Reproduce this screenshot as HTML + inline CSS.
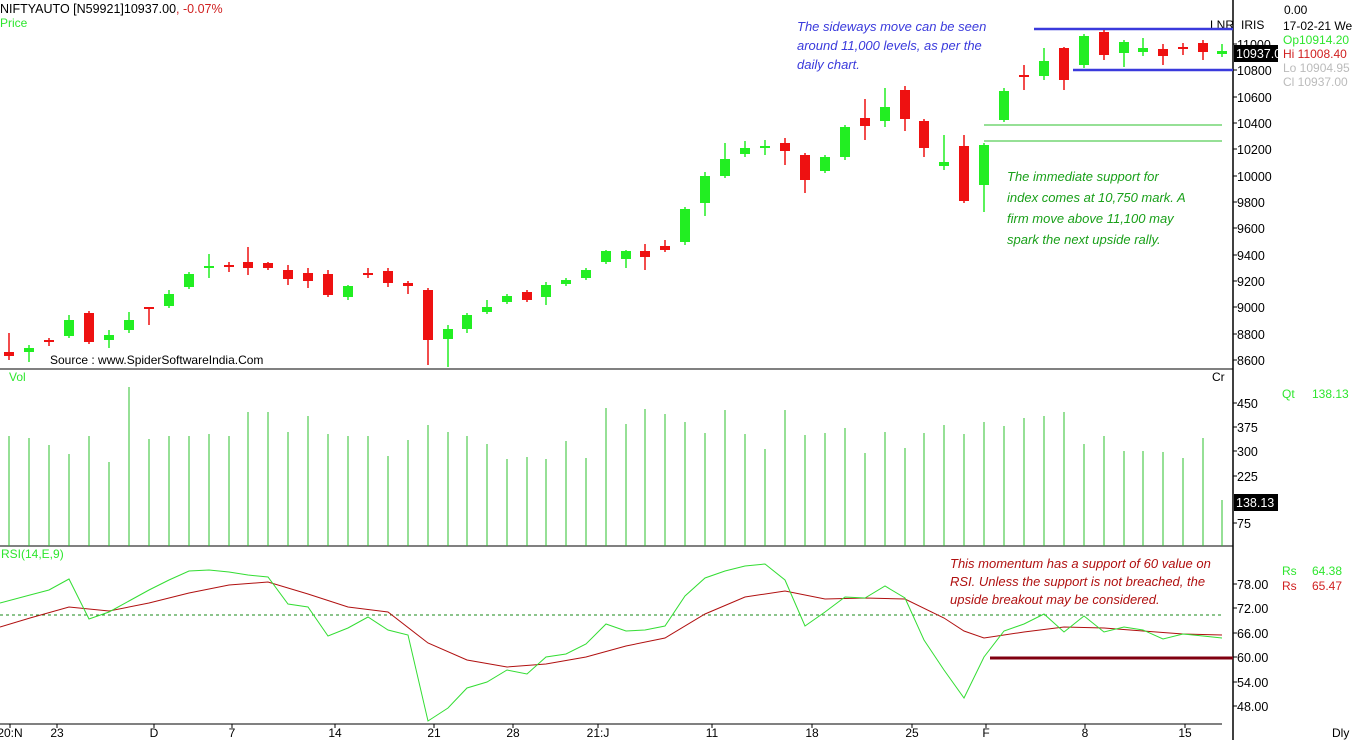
<!DOCTYPE html>
<html><head><meta charset="utf-8"><style>
body{margin:0;background:#fff;width:1352px;height:740px;overflow:hidden}
svg{display:block;font-family:"Liberation Sans",sans-serif}
.it{font-style:italic;font-size:13px}
</style></head><body>
<svg id="s" width="1352" height="740" xmlns="http://www.w3.org/2000/svg">
<rect width="1352" height="740" fill="#fff"/>
<text x="0" y="13" font-size="12.5" fill="#000">NIFTYAUTO [N59921]10937.00<tspan fill="#d02020">,  -0.07%</tspan></text>
<text x="0" y="27" font-size="12" fill="#2ee62e">Price</text>
<line x1="1233" y1="0" x2="1233" y2="740" stroke="#000" stroke-width="1.5"/>
<line x1="0" y1="369" x2="1233" y2="369" stroke="#000"/>
<line x1="0" y1="546" x2="1233" y2="546" stroke="#000"/>
<line x1="0" y1="724" x2="1222" y2="724" stroke="#000"/>
<text x="1210" y="29" font-size="12">LNR</text><text x="1241" y="29" font-size="12">IRIS</text>
<text x="1284" y="14" font-size="12">0.00</text>
<text x="1283" y="30" font-size="12">17-02-21 We</text>
<text x="1283" y="44" font-size="12" fill="#2ee62e">Op10914.20</text>
<text x="1283" y="58" font-size="12" fill="#d02020">Hi  11008.40</text>
<text x="1283" y="72" font-size="12" fill="#bbb">Lo  10904.95</text>
<text x="1283" y="86" font-size="12" fill="#bbb">Cl   10937.00</text>
<text x="9" y="381" font-size="12" fill="#2ee62e">Vol</text>
<text x="1212" y="381" font-size="12">Cr</text>
<text x="1282" y="398" font-size="12" fill="#2ee62e">Qt</text><text x="1312" y="398" font-size="12" fill="#2ee62e">138.13</text>
<text x="1" y="558" font-size="12" fill="#2ee62e">RSI(14,E,9)</text>
<text x="1282" y="575" font-size="12" fill="#2ee62e">Rs</text><text x="1312" y="575" font-size="12" fill="#2ee62e">64.38</text>
<text x="1282" y="590" font-size="12" fill="#d02020">Rs</text><text x="1312" y="590" font-size="12" fill="#d02020">65.47</text>
<text x="50" y="364" font-size="12">Source : www.SpiderSoftwareIndia.Com</text>
<text class="it" fill="#3a3adc"><tspan x="797" y="31">The sideways move can be seen</tspan><tspan x="797" y="50">around 11,000 levels, as per the</tspan><tspan x="797" y="69">daily chart.</tspan></text>
<text class="it" fill="#1aa01a"><tspan x="1007" y="181">The immediate support for</tspan><tspan x="1007" y="202">index comes at 10,750 mark. A</tspan><tspan x="1007" y="223">firm move above 11,100 may</tspan><tspan x="1007" y="244">spark the next upside rally.</tspan></text>
<text class="it" fill="#b01010"><tspan x="950" y="568">This momentum has a support of 60 value on</tspan><tspan x="950" y="586">RSI. Unless the support is not breached, the</tspan><tspan x="950" y="604">upside breakout may be considered.</tspan></text>
<line x1="1034" y1="29" x2="1233" y2="29" stroke="#3a3adc" stroke-width="2.5"/>
<line x1="1073" y1="70" x2="1233" y2="70" stroke="#3a3adc" stroke-width="2.5"/>
<line x1="984" y1="125" x2="1222" y2="125" stroke="#2ec02e"/>
<line x1="984" y1="141" x2="1222" y2="141" stroke="#2ec02e"/>
<line x1="0" y1="615" x2="1222" y2="615" stroke="#1a8a1a" stroke-dasharray="3,3"/>
<g id="g"></g>
<line x1="990" y1="658" x2="1233" y2="658" stroke="#800010" stroke-width="3"/>
<rect x="1234" y="45" width="44" height="17" fill="#000"/><text x="1236" y="58" font-size="12.5" fill="#fff">10937.0</text>
<rect x="1234" y="494" width="44" height="17" fill="#000"/><text x="1236" y="507" font-size="12.5" fill="#fff">138.13</text>
</svg>
<script>
var g=document.getElementById('g'),h='';
var C=[[9,'r',352,356,333,360],[29,'g',348,352,345,362],[49,'r',340,342,338,346],[69,'g',320,336,315,338],[89,'r',313,342,311,344],[109,'g',335,340,330,348],[129,'g',320,330,312,333],[149,'r',307,309,307,325],[169,'g',294,306,290,308],[189,'g',274,287,272,289],[209,'g',266,268,254,278],[229,'r',265,267,262,272],[248,'r',262,268,247,275],[268,'r',263,268,262,270],[288,'r',270,279,265,285],[308,'r',273,281,268,288],[328,'r',274,295,270,297],[348,'g',286,297,285,300],[368,'r',273,275,268,278],[388,'r',271,283,268,287],[408,'r',283,286,281,294],[428,'r',290,340,288,365],[448,'g',329,339,325,367],[467,'g',315,329,313,333],[487,'g',307,312,300,314],[507,'g',296,302,294,304],[527,'r',292,300,290,302],[546,'g',285,297,282,305],[566,'g',280,284,278,286],[586,'g',270,278,268,280],[606,'g',251,262,250,264],[626,'g',251,259,250,268],[645,'r',251,257,244,270],[665,'r',246,250,240,252],[685,'g',209,242,207,245],[705,'g',176,203,172,216],[725,'g',159,176,143,178],[745,'g',148,154,141,157],[765,'g',146,148,140,155],[785,'r',143,151,138,165],[805,'r',155,180,153,193],[825,'g',157,171,155,173],[845,'g',127,157,125,160],[865,'r',118,126,99,140],[885,'g',107,121,88,127],[905,'r',90,119,86,131],[924,'r',121,148,119,157],[944,'g',162,166,135,170],[964,'r',146,201,135,203],[984,'g',145,185,143,212],[1004,'g',91,120,88,122],[1024,'r',75,77,65,90],[1044,'g',61,76,48,80],[1064,'r',48,80,47,90],[1084,'g',36,65,34,68],[1104,'r',32,55,30,60],[1124,'g',42,53,40,67],[1143,'g',48,52,38,56],[1163,'r',49,56,44,65],[1183,'r',47,49,43,55],[1203,'r',43,52,40,60],[1222,'g',51,54,44,57]];
var V=[436,438,445,454,436,462,387,439,436,436,434,436,412,412,432,416,434,436,436,456,440,425,432,436,444,459,457,459,441,458,408,424,409,414,422,433,410,434,449,410,435,433,428,453,432,448,433,425,434,422,426,418,416,412,444,436,451,451,452,458,438,500];
C.forEach(function(c,i){var col=c[1]=='g'?'#22ee22':'#ee1111';
h+='<line x1="'+c[0]+'" y1="'+c[4]+'" x2="'+c[0]+'" y2="'+c[5]+'" stroke="'+col+'" stroke-width="1.5"/>';
h+='<rect x="'+(c[0]-5)+'" y="'+c[2]+'" width="10" height="'+Math.max(2,c[3]-c[2])+'" fill="'+col+'"/>';
h+='<line x1="'+c[0]+'" y1="'+V[i]+'" x2="'+c[0]+'" y2="546" stroke="#2ec02e"/>';});
[[11000,44],[10800,70],[10600,97],[10400,123],[10200,149],[10000,176],[9800,202],[9600,228],[9400,255],[9200,281],[9000,307],[8800,334],[8600,360]].forEach(function(t){h+='<line x1="1233" y1="'+t[1]+'" x2="1237" y2="'+t[1]+'" stroke="#000"/><text x="1237" y="'+(t[1]+5)+'" font-size="12.5">'+t[0]+'</text>';});
[[450,403],[375,427],[300,451],[225,476],[75,523]].forEach(function(t){h+='<line x1="1233" y1="'+t[1]+'" x2="1237" y2="'+t[1]+'" stroke="#000"/><text x="1237" y="'+(t[1]+5)+'" font-size="12.5">'+t[0]+'</text>';});
[['78.00',584],['72.00',608],['66.00',633],['60.00',657],['54.00',682],['48.00',706]].forEach(function(t){h+='<line x1="1233" y1="'+t[1]+'" x2="1237" y2="'+t[1]+'" stroke="#000"/><text x="1237" y="'+(t[1]+5)+'" font-size="12.5">'+t[0]+'</text>';});
[['20:N',10],['23',57],['D',154],['7',232],['14',335],['21',434],['28',513],['21:J',598],['11',712],['18',812],['25',912],['F',986],['8',1085],['15',1185]].forEach(function(t){h+='<line x1="'+t[1]+'" y1="724" x2="'+t[1]+'" y2="728" stroke="#000"/><text x="'+t[1]+'" y="737" font-size="12" text-anchor="middle">'+t[0]+'</text>';});
h+='<text x="1332" y="737" font-size="12">Dly</text>';
var G='0,603 30,595 49,590 69,579 89,619 109,612 129,601 149,590 169,580 189,571 209,570 229,572 248,575 268,577 288,604 308,607 328,636 348,628 368,617 388,630 408,635 428,721 448,708 467,688 487,682 507,670 527,674 546,657 566,654 586,644 606,624 626,631 645,630 665,626 685,596 705,578 725,571 745,566 765,564 785,580 805,626 825,612 845,597 865,598 885,586 905,598 924,640 944,670 964,698 984,657 1004,631 1024,624 1044,614 1064,632 1084,616 1104,632 1124,627 1143,630 1163,639 1183,634 1203,636 1222,638';
var R='0,627 30,618 69,607 109,611 149,603 189,593 229,585 268,582 308,594 348,607 388,612 428,643 467,660 507,667 546,664 586,657 626,646 665,638 705,614 745,597 785,591 825,599 865,598 905,599 944,618 964,631 984,638 1024,632 1064,627 1104,628 1143,631 1183,634 1222,635';
h+='<polyline points="'+R+'" fill="none" stroke="#b01010"/><polyline points="'+G+'" fill="none" stroke="#33dd33"/>';
g.innerHTML=h;
</script>
</body></html>
